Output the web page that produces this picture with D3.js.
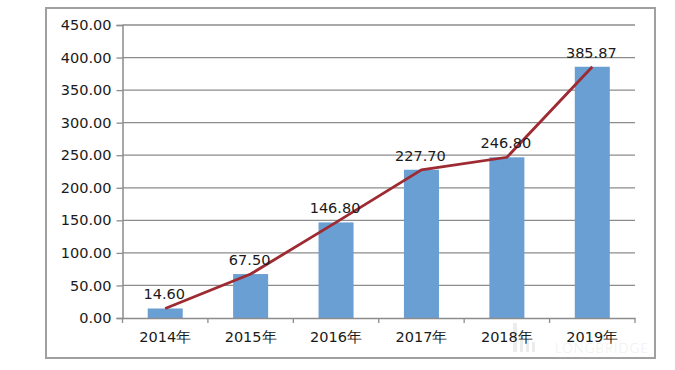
<!DOCTYPE html>
<html><head><meta charset="utf-8">
<script src="https://cdn.jsdelivr.net/npm/d3@7"></script>
<style>body{margin:0;background:#fff}svg{display:block}</style>
</head><body>
<svg id="c" width="675" height="370"></svg>
<script>
const categories = ["2014年","2015年","2016年","2017年","2018年","2019年"];
const values = [14.60, 67.50, 146.80, 227.70, 246.80, 385.87];
const valueLabels = ["14.60","67.50","146.80","227.70","246.80","385.87"];
const yTicks = [0,50,100,150,200,250,300,350,400,450];

const svg = d3.select("#c");
const font = "'DejaVu Sans', Verdana, sans-serif";
const L = 122.5, R = 635, T = 25, B = 318;

svg.append("rect").attr("x",46).attr("y",8).attr("width",609).attr("height",350)
  .attr("fill","#fff").attr("stroke","#a0a0a0").attr("stroke-width",2);

const x = d3.scaleBand().domain(categories).range([L,R]).paddingInner(0.59).paddingOuter(0.295);
const xb = d3.scaleBand().domain(categories).range([L,R]);
const y = d3.scaleLinear().domain([0,450]).range([B,T]);

// gridlines
svg.append("g").selectAll("line").data(yTicks.filter(d=>d>0)).join("line")
  .attr("x1",L).attr("x2",R).attr("y1",d=>y(d)).attr("y2",d=>y(d))
  .attr("stroke","#8c8c8c").attr("stroke-width",1.3);

// y axis
const ya = svg.append("g").attr("transform",`translate(${L},0)`)
  .call(d3.axisLeft(y).tickValues(yTicks).tickFormat(d3.format(".2f")).tickSize(6).tickPadding(5));
ya.select(".domain").attr("stroke","#8c8c8c").attr("stroke-width",1.5);
ya.selectAll(".tick line").attr("stroke","#8c8c8c").attr("stroke-width",1.3);
ya.selectAll("text").attr("font-family",font).attr("font-size",14.5).attr("fill","#1a1a1a");

// watermark (behind)
const wm = svg.append("g").attr("opacity",0.15);
[[513,323,4,29],[520,331,3,21],[526,339,3,13],[532,342,3,10]].forEach(r=>
  wm.append("rect").attr("x",r[0]).attr("y",r[1]).attr("width",r[2]).attr("height",r[3]).attr("fill","#888"));
wm.append("text").attr("x",555).attr("y",353).attr("font-family","Lato, sans-serif").attr("font-size",13)
  .attr("font-weight",300).attr("fill","#888").attr("letter-spacing",1.2).text("LONGBRIDGE");

// bars
svg.append("g").selectAll("rect").data(values).join("rect")
  .attr("x",(d,i)=>x(categories[i])).attr("width",x.bandwidth())
  .attr("y",d=>y(d)).attr("height",d=>B-y(d)).attr("fill","#6a9fd4");

// x axis
const xa = svg.append("g").attr("transform",`translate(0,${B})`)
  .call(d3.axisBottom(xb).tickSize(0).tickPadding(14));
xa.select(".domain").attr("stroke","#8c8c8c").attr("stroke-width",1.5);
xa.selectAll("text").attr("font-family",font).attr("font-size",14.5).attr("fill","#1a1a1a");
svg.append("g").selectAll("line").data(d3.range(categories.length+1)).join("line")
  .attr("x1",i=>L+i*xb.step()).attr("x2",i=>L+i*xb.step())
  .attr("y1",B).attr("y2",B+5).attr("stroke","#8c8c8c").attr("stroke-width",1.3);

// line
const line = d3.line().x((d,i)=>xb(categories[i])+xb.bandwidth()/2).y(d=>y(d));
svg.append("path").datum(values).attr("d",line).attr("fill","none")
  .attr("stroke","#9e2a32").attr("stroke-width",2.8);

// value labels
svg.append("g").selectAll("text").data(values).join("text")
  .attr("x",(d,i)=>xb(categories[i])+xb.bandwidth()/2-1).attr("y",d=>y(d)-9)
  .attr("text-anchor","middle").attr("font-family",font).attr("font-size",14.5).attr("fill","#1a1a1a")
  .text((d,i)=>valueLabels[i]);
</script>
</body></html>
